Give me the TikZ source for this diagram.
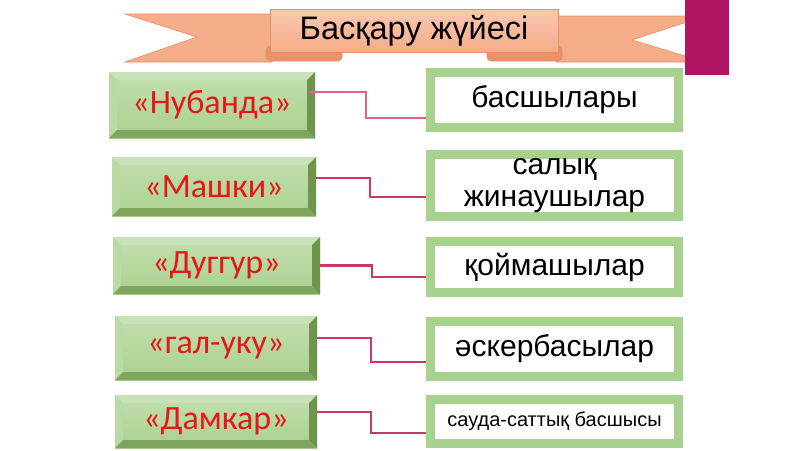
\documentclass[tikz,border=0pt]{standalone}
\usepackage{fontspec}
\setmainfont{Liberation Sans}
\newfontfamily\calfont{Carlito}
\usepackage{tikz}
\usetikzlibrary{arrows.meta}
\definecolor{bannerfill}{RGB}{245,172,136}
\definecolor{bannertop}{RGB}{250,200,176}
\definecolor{banneredge}{RGB}{236,140,100}
\definecolor{bannerfold}{RGB}{232,146,106}
\definecolor{barmag}{RGB}{177,20,96}
\definecolor{btnface}{RGB}{169,209,142}
\definecolor{btntop}{RGB}{199,226,182}
\definecolor{btnleft}{RGB}{186,218,164}
\definecolor{btnright}{RGB}{110,148,78}
\definecolor{btnbottom}{RGB}{126,166,94}
\definecolor{boxgreen}{RGB}{169,209,142}
\definecolor{lblred}{RGB}{232,22,22}
\definecolor{linkred}{RGB}{204,56,100}
\definecolor{linkpink}{RGB}{226,98,140}
\tikzset{
  btn/.style={rectangle, top color=btnface!70!white, bottom color=btnface, text=lblred, inner sep=0pt,
    font=\calfont\fontsize{34}{38}\selectfont,
    path picture={
      \coordinate (bnw) at (path picture bounding box.north west);
      \coordinate (bne) at (path picture bounding box.north east);
      \coordinate (bsw) at (path picture bounding box.south west);
      \coordinate (bse) at (path picture bounding box.south east);
      \fill[btntop] (bnw) -- (bne) -- ([shift={(-8pt,-8pt)}]bne) -- ([shift={(8pt,-8pt)}]bnw) -- cycle;
      \fill[btnleft] (bnw) -- (bsw) -- ([shift={(8pt,8pt)}]bsw) -- ([shift={(8pt,-8pt)}]bnw) -- cycle;
      \fill[btnbottom] (bsw) -- (bse) -- ([shift={(-8pt,8pt)}]bse) -- ([shift={(8pt,8pt)}]bsw) -- cycle;
      \fill[btnright] (bse) -- (bne) -- ([shift={(-8pt,-8pt)}]bne) -- ([shift={(-8pt,8pt)}]bse) -- cycle;
    }},
  rbox/.style={rectangle, draw=boxgreen, fill=white, line width=9pt, outer sep=4.5pt, inner sep=0pt,
    minimum width=248pt, align=center, text=black, font=\fontsize{30}{32}\selectfont},
  link/.style={draw=linkred, line width=2.2pt},
  tail/.style={fill=bannerfill, draw=banneredge, line width=0.6pt}
}

\begin{document}
\begin{tikzpicture}[x=1pt, y=-1pt]
  \useasboundingbox (0,0) rectangle (800,450);

  % Banner
  \path[tail] (125,14) -- (272,14) -- (272,62) -- (125,62) -- (197,37) -- cycle;
  \path[tail] (705,16) -- (556,16) -- (556,62) -- (705,62) -- (632,40) -- cycle;
  \filldraw[fill=bannerfold, draw=banneredge, line width=0.6pt, rounded corners=4pt] (266,46) rectangle (342,61);
  \filldraw[fill=bannerfold, draw=banneredge, line width=0.6pt, rounded corners=4pt] (487,46) rectangle (562,61);
  \node[rectangle, top color=bannertop, bottom color=bannerfill, draw=banneredge, line width=0.6pt,
    minimum width=288pt, minimum height=43pt, inner sep=0pt, font=\fontsize{32.5}{35}\selectfont] (title) at (414,30.5) {Басқару жүйесі};
  \fill[barmag] (685,0) rectangle (729,75);

  % Left buttons
  \node[btn, minimum width=206pt, minimum height=66pt] (nub) at (212,105) {«Нубанда»};
  \node[btn, minimum width=204pt, minimum height=59pt] (mash) at (214,186.5) {«Машки»};
  \node[btn, minimum width=207pt, minimum height=57pt] (dug) at (216.5,265.5) {«Дуггур»};
  \node[btn, minimum width=202pt, minimum height=64pt] (gal) at (216,348) {«гал-уку»};
  \node[btn, minimum width=202pt, minimum height=53pt] (dam) at (216,421.5) {«Дамкар»};

  % Right boxes
  \node[rbox, minimum height=55pt] (bas) at (554.5,100) {басшылары};
  \node[rbox, minimum height=62pt] (sal) at (554.5,185.5) {салық\\жинаушылар};
  \node[rbox, minimum height=51pt] (qoi) at (554.5,267) {қоймашылар};
  \node[rbox, minimum height=55pt] (ask) at (554.5,349) {әскербасылар};
  \node[rbox, minimum height=44pt, font=\fontsize{20}{22}\selectfont] (sau) at (554.5,421.5) {сауда-саттық басшысы};

  % Connectors
  \draw[link, draw=linkpink, line width=1.3pt, -{Stealth[length=6pt, width=5pt]}] ([yshift=-18pt]bas.west) -- ++(-60,0) |- ([xshift=-7pt, yshift=13pt]nub.east);
  \draw[link] ([yshift=-11.5pt]sal.west) -- ++(-56,0) |- ([yshift=8.5pt]mash.east);
  \draw[link] ([yshift=-10pt]qoi.west) -- ++(-54,0) |- (dug.east);
  \draw[link] ([yshift=-13pt]ask.west) -- ++(-55,0) |- ([yshift=10pt]gal.east);
  \draw[link] ([yshift=-11.5pt]sau.west) -- ++(-55,0) |- ([yshift=9.5pt]dam.east);
\end{tikzpicture}
\end{document}
